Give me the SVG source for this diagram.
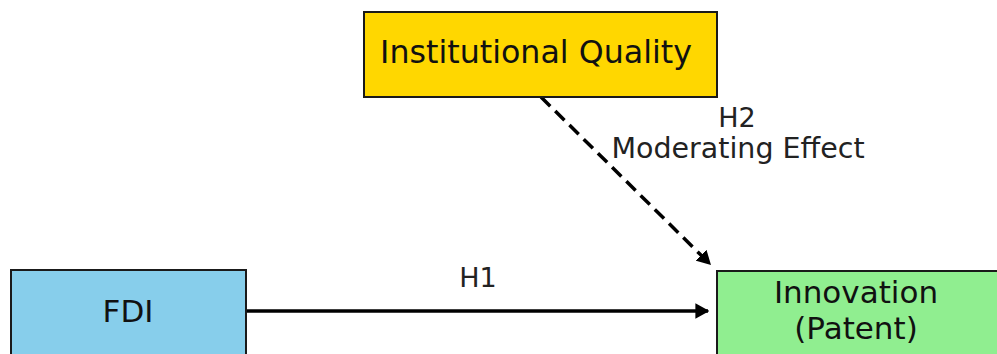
<svg xmlns="http://www.w3.org/2000/svg" width="997" height="354" viewBox="0 0 997 354">
  <style>
    .box { stroke: #1a1a1a; stroke-width: 2; }
    .node-text { font-family: "DejaVu Sans", sans-serif; font-size: 31px; fill: #111; text-anchor: middle; }
    .edge-label { font-family: "DejaVu Sans", sans-serif; font-size: 27px; fill: #222; text-anchor: middle; }
    .edge { stroke: #000; stroke-width: 3.5; fill: none; }
  </style>
  <defs>
    <marker id="arrow" viewBox="0 0 10 12" refX="9" refY="6" markerWidth="4" markerHeight="4.8" orient="auto" markerUnits="strokeWidth">
      <path d="M0,0.5 L10,6 L0,11.5 Z" fill="#000"/>
    </marker>
  </defs>
  <rect width="997" height="354" fill="#fff"/>

  <g id="connectors">
    <line class="edge" x1="247" y1="311" x2="708" y2="311" marker-end="url(#arrow)"/>
    <line class="edge" x1="541" y1="97" x2="710" y2="264" stroke-dasharray="13,7" marker-end="url(#arrow)"/>
    <text class="edge-label" x="478" y="287">H1</text>
    <text class="edge-label" x="737" y="127">H2</text>
    <text class="edge-label" x="738" y="158" style="font-size:28.5px">Moderating Effect</text>
  </g>

  <g id="node-institutional-quality">
    <rect class="box" x="364" y="12" width="353" height="85" fill="#ffd700"/>
    <text class="node-text" x="536" y="63" style="font-size:31.7px">Institutional Quality</text>
  </g>

  <g id="node-fdi">
    <rect class="box" x="11" y="270" width="235" height="100" fill="#87ceeb"/>
    <text class="node-text" x="128" y="322">FDI</text>
  </g>

  <g id="node-innovation">
    <rect class="box" x="717" y="271" width="300" height="100" fill="#90ee90"/>
    <text class="node-text" x="856" y="303">Innovation</text>
    <text class="node-text" x="856" y="339">(Patent)</text>
  </g>
</svg>
